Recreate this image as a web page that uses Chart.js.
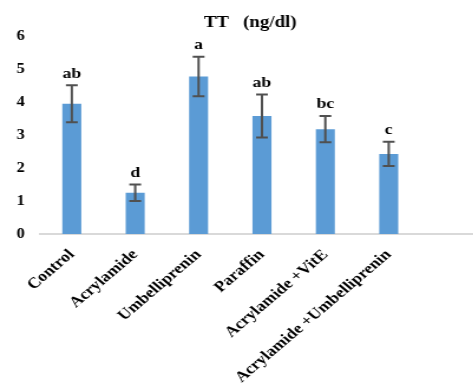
<!DOCTYPE html>
<html>
<head>
<meta charset="utf-8">
<script src="https://cdn.jsdelivr.net/npm/chart.js@4/dist/chart.umd.min.js"></script>
<style>
html,body{margin:0;padding:0;background:#fff;overflow:hidden;}
#wrap{width:473px;height:387px;overflow:hidden;position:relative;}
#c{position:absolute;left:0;top:0;transform:scaleX(1.18);transform-origin:0 0;}
</style>
</head>
<body>
<div id="wrap"><canvas id="c" width="410" height="387"></canvas></div>
<script>
const categories = ["Control", "Acrylamide", "Umbelliprenin", "Paraffin", "Acrylamide +VitE", "Acrylamide +Umbelliprenin", ""];
const means = [3.95, 1.25, 4.78, 3.58, 3.18, 2.43, null];
const errors = [0.56, 0.25, 0.6, 0.65, 0.4, 0.37, null];
const letters = ["ab", "d", "a", "ab", "bc", "c", ""];
const yTicks = [0, 1, 2, 3, 4, 5, 6];

const serif = "'Liberation Serif', 'Times New Roman', serif";

const errorPlugin = {
  id: 'errorBars',
  afterDatasetsDraw(chart) {
    const ctx = chart.ctx;
    const meta = chart.getDatasetMeta(0);
    const y = chart.scales.y;
    ctx.save();
    meta.data.forEach((bar, i) => {
      if (means[i] == null) return;
      const x = bar.x;
      const top = y.getPixelForValue(means[i] + errors[i]);
      const bot = y.getPixelForValue(means[i] - errors[i]);
      ctx.strokeStyle = '#505050';
      ctx.lineWidth = 2;
      ctx.beginPath();
      ctx.moveTo(x, top); ctx.lineTo(x, bot);
      ctx.moveTo(x - 5, top); ctx.lineTo(x + 5, top);
      ctx.moveTo(x - 5, bot); ctx.lineTo(x + 5, bot);
      ctx.stroke();
      ctx.fillStyle = '#000';
      ctx.font = "bold 15px " + serif;
      ctx.textAlign = 'center';
      ctx.textBaseline = 'bottom';
      ctx.fillText(letters[i], x, top - 4);
    });
    ctx.restore();
  }
};

new Chart(document.getElementById('c'), {
  type: 'bar',
  data: {
    labels: categories,
    datasets: [{
      data: means,
      backgroundColor: '#5B9BD5',
      borderWidth: 0,
      barPercentage: 0.3,
      categoryPercentage: 1.0
    }]
  },
  options: {
    responsive: false,
    animation: false,
    layout: { padding: { left: 14, top: 10, right: 0, bottom: 0 } },
    plugins: {
      legend: { display: false },
      tooltip: { enabled: false },
      title: {
        display: true,
        text: 'TT   (ng/dl)',
        color: '#000',
        font: { family: serif, size: 16, weight: 'bold' },
        padding: { top: 3, bottom: 4 }
      }
    },
    scales: {
      x: {
        afterFit(scale) { scale.paddingLeft = 0; scale.paddingRight = 0; scale.height = 153; },
        grid: { display: false, drawTicks: false },
        border: { display: true, color: '#D9D9D9', width: 2 },
        ticks: {
          color: '#000',
          font: { family: serif, size: 15, weight: 'bold' },
          maxRotation: 45, minRotation: 45,
          autoSkip: false,
          padding: 12
        }
      },
      y: {
        min: 0, max: 6,
        afterBuildTicks(axis) { axis.ticks = yTicks.map(v => ({ value: v })); },
        afterFit(scale) { scale.width = 20; },
        grid: { display: false, drawTicks: false },
        border: { display: false },
        ticks: {
          color: '#000',
          font: { family: serif, size: 14, weight: 'bold' },
          crossAlign: 'far',
          padding: 6
        }
      }
    }
  },
  plugins: [errorPlugin]
});
</script>
</body>
</html>
